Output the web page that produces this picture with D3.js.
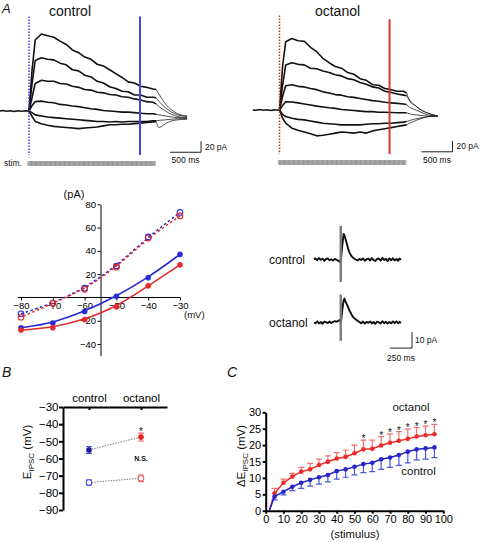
<!DOCTYPE html>
<html><head><meta charset="utf-8">
<script src="https://cdn.jsdelivr.net/npm/d3@7"></script>
<style>
body{margin:0;background:#fff;}
svg{display:block;font-family:"Liberation Sans",Arial,Helvetica,sans-serif;}
</style></head><body>
<svg id="fig" width="480" height="542"></svg>
<script>
// ================= DATA =================
// Panel A : whole-cell currents during 100 stimuli (pA vs ms)
const traceTimes = [0,50,100,200,300,400,500,600,700,800,900,1000,1100,1200,1300,1400,1500,1600,1700,1800,1900,2000,2050];
const decayTimes = [2050,2100,2200,2300,2400,2550];
const controlTraces = [
  [0,75,129,140,137,134,127,121,111,106,98,94,85,82,75,68,61,53,51,45,43,40,39],
  [0,50,92,97,94,93,87,84,75,73,65,62,54,51,44,41,36,35,29,29,25,25,24],
  [0,25,50,56,54,54,50,49,45,43,39,38,34,33,30,29,26,25,22,20,17,16,13],
  [0,10,17,18,16,15,12,11,9,8,6,4,3,1,0,-1,-2,-2,-3,-4,-5,-5,-6],
  [0,-3,-7,-9,-11,-12,-13,-14,-15,-16,-17,-18,-19,-19,-20,-19,-20,-19,-19,-19,-19,-18,-18],
  [0,-10,-19,-23,-26,-28,-29,-30,-31,-32,-31,-30,-29,-27,-25,-25,-24,-24,-23,-22,-21,-20,-19]
];
const controlDecay = [
  [39,30,13,2,-5,-9],
  [24,17,6,-2,-7,-10],
  [13,8,0,-6,-10,-12],
  [-6,-7,-9,-11,-12,-13],
  [-18,-17,-16,-15,-14,-14],
  [-19,-30,-23,-18,-16,-15]
];
const octanolTraces = [
  [0,80,124,130,126,125,114,106,94,86,79,76,68,65,57,54,46,45,39,37,34,34,31],
  [0,45,82,86,83,82,76,75,71,68,64,62,57,55,50,47,42,40,34,32,29,27,26],
  [0,25,44,46,43,42,39,37,33,31,28,27,24,23,21,19,17,16,14,13,12,11,10],
  [0,8,15,14.5,13,11,9,7,5.5,4,3,1,0,-1,-2,-3,-3,-4,-4,-4.5,-5,-5,-5],
  [0,-8,-12,-15,-17,-18,-20,-22,-24,-25,-26,-27,-27,-27,-27,-26,-25,-25,-24,-24,-23,-22,-21],
  [0,-15,-24,-33,-37,-40,-43,-47,-46,-44,-42,-40,-41,-42,-40,-42,-38,-36,-34,-32,-30,-28,-27]
];
const octanolDecay = [
  [31,16,7,-1,-6,-11],
  [26,18,7,-1,-6,-11],
  [10,5,0,-5,-9,-11],
  [-5,-7,-9,-10,-11,-11],
  [-21,-19,-16,-14,-12,-11],
  [-27,-24,-19,-15,-12,-11]
];
const controlBaseT = [-470,-420,-360,-300,-240,-180,-120,-60,0];
const controlBaseV = [0,0.8,-0.5,0.6,-0.8,0.4,-0.6,0.5,0];
const octanolBaseT = [-430,-380,-320,-260,-200,-140,-80,-30,0];
const octanolBaseV = [0,-0.6,0.7,-0.4,0.6,-0.7,0.5,-0.3,0];
const controlCursorTimes = [0,1790];   // dotted (start), solid (end)
const octanolCursorTimes = [0,1775];
const stimCount = 100, stimInterval = 20.4;   // ms
const scaleBarA = {ms:500, pA:20};

// IV relationship (pA vs mV)
const ivVoltage = [-80,-70,-60,-50,-40,-30];
const ivControlStart = [-14,-5,8,27,52,73];
const ivOctanolStart = [-17,-5,7,26,51,70];
const ivControlEnd = [-26,-22,-12,1,17,37];
const ivOctanolEnd = [-28,-26,-19,-8,10,28];
const ivYTicks = [-40,-20,20,40,60,80];
const ivXTicks = [-80,-70,-60,-50,-40,-30];

// single IPSC examples
const smallTimes = [-307,-290,-270,-250,-230,-210,-190,-170,-150,-130,-110,-90,-70,-50,-30,-15,
  0,15,30,40,55,70,85,100,120,140,165,
  190,210,230,250,270,290,310,330,350,370,390,410,430,450,470,490,510,530,550,570,590,610,630,650,665,682];
const smallControl = [0,0.7,-0.4,0.9,-0.2,0.5,-0.8,0.3,0.6,-0.5,0.2,-0.7,0.4,-0.3,-0.8,-1.5,
  0,9,16,15,12,9,6,4,2,1,0,
  -0.6,0.4,-0.3,0.7,-0.8,0.2,0.5,-0.6,0.9,-0.4,-0.9,0.3,0.6,-0.7,1.0,-0.3,0.4,-1.0,0.7,-0.5,0.8,-0.6,0.3,-0.8,0.6,-0.2];
const smallOctanol = [0,-0.5,0.7,-0.6,0.3,-0.8,0.5,0.2,-0.4,0.6,-0.3,0.4,0.8,0.5,1.0,1.5,
  0,8,14,15,12.5,11,9,7,5,3.2,2,
  1,0.3,-0.5,0.6,-0.7,0.4,-0.2,0.7,-0.6,0.3,-0.8,0.5,0.2,-0.6,0.8,-0.4,0.5,-0.7,0.3,-0.5,0.6,-0.3,0.7,-0.6,0.4,-0.3];
const artifactControl = [21,-14];
const artifactOctanol = [17.5,-11.5];
const scaleBarS = {ms:250, pA:10};

// Panel B : E_IPSC
const bGroups = ["control","octanol"];
const bStimMean = [-55,-47.5];
const bStimSem = [2,2.3];
const bRestMean = [-74,-71.5];
const bRestSem = [1.5,2];
const bYTicks = [-90,-80,-70,-60,-50,-40,-30];

// Panel C : delta E_IPSC vs stimulus number
const cStimulus = [2,5,10,15,20,25,30,35,40,45,50,55,60,65,70,75,80,85,90,95];
const cOctMean = [0,5.3,8.5,10.4,11.9,12.6,13.9,14.9,15.9,16.4,17.5,18.7,18.9,19.9,20.7,21.3,21.9,22.6,23.0,23.3];
const cOctSem  = [0,1.5,1.1,1.0,1.3,1.8,1.8,1.8,1.8,2.1,2.5,2.8,2.6,2.7,2.7,2.8,3.0,2.7,2.8,3.0];
const cCtlMean = [0,4.3,5.8,7.3,8.5,9.4,10.2,10.9,12.1,12.6,13.4,14.2,14.6,15.7,16.2,17.0,18.0,18.7,19.0,19.3];
const cCtlSem  = [0,1.0,1.0,1.2,1.7,1.9,2.1,2.1,2.5,2.4,2.5,2.6,2.7,3.1,3.0,3.2,3.4,3.2,3.3,3.1];
const cSignificant = [55,65,70,75,80,85,90,95];
const cXTicks = [0,10,20,30,40,50,60,70,80,90,100];
const cYTicks = [0,5,10,15,20,25,30];

// ================= DRAW =================
const BLUE = "#2a2ad6", RED = "#e42a2a";
const fig = d3.select("#fig");
fig.append("rect").attr("width",480).attr("height",542).attr("fill","#fff");

function label(g, x, y, txt, size, opts={}) {
  return g.append("text").attr("x",x).attr("y",y).text(txt)
    .attr("font-size",size).attr("fill","#111")
    .attr("text-anchor",opts.anchor||"start")
    .attr("font-style",opts.italic?"italic":"normal")
    .attr("font-weight",opts.bold?"bold":"normal");
}

// ---- Panel A traces ----
const xA = d3.scaleLinear().domain([0,2000]).range([0,124]);
const yA = d3.scaleLinear().domain([0,20]).range([0,-11]);
const stimTimes = d3.range(stimCount).map(i => i*stimInterval);

function tracePanel(o) {
  const g = fig.append("g").attr("transform",`translate(${o.x0},${o.y0})`);
  g.append("rect").attr("x",xA(-30)).attr("width",xA(stimTimes[stimCount-1]+30)-xA(-30))
    .attr("y",yA(-91)).attr("height",yA(-100)-yA(-91)).attr("fill","#c4c4c4");
  g.selectAll("line.stim").data(stimTimes).join("line").attr("class","stim")
    .attr("x1",d=>xA(d)).attr("x2",d=>xA(d)).attr("y1",yA(-91)).attr("y2",yA(-100))
    .attr("stroke","#808080").attr("stroke-width",0.7);
  g.append("path").attr("d",d3.line().x((d,i)=>xA(o.baseT[i])).y(d=>yA(d))(o.baseV))
    .attr("fill","none").attr("stroke","#111").attr("stroke-width",1.5);
  o.decays.forEach(tr=>{
    g.append("path").attr("d",d3.line().x((d,i)=>xA(decayTimes[i])).y(d=>yA(d)).curve(d3.curveMonotoneX)(tr))
      .attr("fill","none").attr("stroke","#222").attr("stroke-width",0.8);
  });
  o.traces.forEach(tr=>{
    g.append("path").attr("d",d3.line().x((d,i)=>xA(traceTimes[i])).y(d=>yA(d))(tr))
      .attr("fill","none").attr("stroke","#111").attr("stroke-width",1.6).attr("stroke-linejoin","round");
  });
  g.append("line").attr("x1",xA(o.cursors[0])).attr("x2",xA(o.cursors[0]))
    .attr("y1",yA(172)).attr("y2",yA(-80)).attr("stroke",o.color).attr("stroke-width",1.6)
    .attr("stroke-dasharray","1.5,1.5");
  g.append("line").attr("x1",xA(o.cursors[1])).attr("x2",xA(o.cursors[1]))
    .attr("y1",yA(o.solidTop)).attr("y2",yA(-80)).attr("stroke",o.color).attr("stroke-width",2);
  const sx = xA(o.sbT), sy = yA(o.sbP);
  g.append("path").attr("d",`M${xA(o.sbT-scaleBarA.ms)},${sy}H${sx}V${yA(o.sbP+scaleBarA.pA)}`)
    .attr("fill","none").attr("stroke","#222").attr("stroke-width",1);
  label(g, sx+4, yA(o.sbP+scaleBarA.pA/2)+3, scaleBarA.pA+" pA", 8.5);
  label(g, xA(o.sbT-scaleBarA.ms/2), sy+11, scaleBarA.ms+" ms", 8.5, {anchor:"middle"});
  return g;
}
tracePanel({x0:29,y0:111,traces:controlTraces,decays:controlDecay,baseT:controlBaseT,baseV:controlBaseV,
  cursors:controlCursorTimes,color:"#4545e0",solidTop:172,sbT:2775,sbP:-75});
tracePanel({x0:279.5,y0:110,traces:octanolTraces,decays:octanolDecay,baseT:octanolBaseT,baseV:octanolBaseV,
  cursors:octanolCursorTimes,color:"#e03434",solidTop:165,sbT:2790,sbP:-76});

label(fig, 2, 12.5, "A", 13, {italic:true});
label(fig, 70, 16, "control", 14, {anchor:"middle"});
label(fig, 337.5, 16, "octanol", 14, {anchor:"middle"});
label(fig, 4, 166, "stim.", 8.5);

// ---- IV plot ----
const xIV = d3.scaleLinear().domain([-80,-30]).range([21,180]);
const yIV = d3.scaleLinear().domain([-50,80]).range([355.7,204.3]);
const ivG = fig.append("g");
ivG.append("g").attr("transform",`translate(0,${yIV(0)})`)
  .call(d3.axisBottom(xIV).tickValues(ivXTicks).tickSize(3).tickSizeOuter(0).tickPadding(1.5))
  .call(a=>{a.select(".domain").remove(); a.selectAll("text").attr("font-size",9.5).attr("font-family",null);});
ivG.append("line").attr("x1",xIV(-81)).attr("x2",xIV(-30)).attr("y1",yIV(0)).attr("y2",yIV(0)).attr("stroke","#000");
ivG.append("g").attr("transform",`translate(${xIV(-55)},0)`)
  .call(d3.axisLeft(yIV).tickValues(ivYTicks).tickSize(3).tickSizeOuter(0).tickPadding(1.5))
  .call(a=>{a.selectAll("text").attr("font-size",9.5).attr("font-family",null);});
label(ivG, 74, 198, "(pA)", 11, {anchor:"middle"});
label(ivG, 184, 318, "(mV)", 9.5);

const ivLine = d3.line().x((d,i)=>xIV(ivVoltage[i])).y(d=>yIV(d)).curve(d3.curveBasis);
ivG.append("path").attr("d",ivLine(ivControlStart)).attr("fill","none").attr("stroke",BLUE).attr("stroke-width",1.5)
  .attr("stroke-dasharray","2.5,2.5");
ivG.append("path").attr("d",ivLine(ivOctanolStart)).attr("fill","none").attr("stroke",RED).attr("stroke-width",1.5)
  .attr("stroke-dasharray","2.5,2.5").attr("stroke-dashoffset",2.5);
ivG.append("path").attr("d",ivLine(ivControlEnd)).attr("fill","none").attr("stroke",BLUE).attr("stroke-width",1.6);
ivG.append("path").attr("d",ivLine(ivOctanolEnd)).attr("fill","none").attr("stroke",RED).attr("stroke-width",1.6);
function ivMarks(vals, color, open) {
  ivG.append("g").selectAll("circle").data(vals).join("circle")
    .attr("cx",(d,i)=>xIV(ivVoltage[i])).attr("cy",d=>yIV(d))
    .attr("r",open?2.8:2.6).attr("fill",open?"none":color).attr("stroke",color).attr("stroke-width",open?1.1:0.5);
}
ivMarks(ivControlStart, BLUE, true);
ivMarks(ivOctanolStart, RED, true);
ivMarks(ivControlEnd, BLUE, false);
ivMarks(ivOctanolEnd, RED, false);

// ---- single IPSC examples ----
const xS = d3.scaleLinear().domain([0,250]).range([0,22]);
const yS = d3.scaleLinear().domain([0,10]).range([0,-16]);
function smallTrace(x0,y0,vals,art,name) {
  const g = fig.append("g").attr("transform",`translate(${x0},${y0})`);
  g.append("path").attr("d",d3.line().x((d,i)=>xS(smallTimes[i])).y(d=>yS(d))(vals))
    .attr("fill","none").attr("stroke","#111").attr("stroke-width",1.9).attr("stroke-linejoin","round");
  g.append("line").attr("x1",xS(-3)).attr("x2",xS(-3)).attr("y1",yS(art[0])).attr("y2",yS(art[1]))
    .attr("stroke","#7a7a7a").attr("stroke-width",2.4);
  label(fig, 269, y0+4, name, 12);
  return g;
}
smallTrace(341,259.5,smallControl,artifactControl,"control");
const sOct = smallTrace(341,322.5,smallOctanol,artifactOctanol,"octanol");
{
  const sx = xS(807), sy = yS(-16);
  sOct.append("path").attr("d",`M${xS(807-scaleBarS.ms)},${sy}H${sx}V${yS(-16+scaleBarS.pA)}`)
    .attr("fill","none").attr("stroke","#222").attr("stroke-width",1);
  label(sOct, sx+3, yS(-16+scaleBarS.pA/2)+3, scaleBarS.pA+" pA", 8.5);
  label(sOct, xS(807-scaleBarS.ms/2), sy+12.5, scaleBarS.ms+" ms", 8.5, {anchor:"middle"});
}

// ---- Panel B ----
const xB = d3.scalePoint().domain(bGroups).range([63,167]).padding(0.5);
const yB = d3.scaleLinear().domain([-90,-30]).range([510,407]);
const bG = fig.append("g");
bG.append("g").attr("transform",`translate(63,0)`)
  .call(d3.axisLeft(yB).tickValues(bYTicks).tickSize(4).tickSizeOuter(0).tickPadding(0.5))
  .call(a=>{a.selectAll("path,line").attr("stroke-width",2); a.selectAll("text").attr("font-size",11.5).attr("font-family",null);});
bG.append("g").attr("transform",`translate(0,${yB(-30)})`)
  .call(d3.axisTop(xB).tickSize(-3).tickSizeOuter(0).tickPadding(5.5))
  .call(a=>{a.selectAll("path,line").attr("stroke-width",2); a.selectAll("text").attr("font-size",11.5).attr("font-family",null);});
label(fig, 2, 377, "B", 14, {italic:true});
{
  const t = bG.append("text").attr("transform","translate(31,452) rotate(-90)").attr("text-anchor","middle")
    .attr("font-size",11.5).attr("fill","#111");
  t.append("tspan").text("E");
  t.append("tspan").text("IPSC").attr("font-size",8).attr("dy",3);
  t.append("tspan").text(" (mV)").attr("dy",-3);
}
function bSeries(means, sems, colorDark, colorLight, open) {
  bG.append("line").attr("x1",xB(bGroups[0])).attr("x2",xB(bGroups[1]))
    .attr("y1",yB(means[0])).attr("y2",yB(means[1]))
    .attr("stroke","#808080").attr("stroke-width",1).attr("stroke-dasharray","1.5,1.2");
  means.forEach((m,i)=>{
    const x = xB(bGroups[i]);
    const c = colorDark[i], cl = colorLight[i];
    bG.append("path").attr("d",`M${x-3},${yB(m+sems[i])}H${x+3}M${x},${yB(m+sems[i])}V${yB(m-sems[i])}M${x-3},${yB(m-sems[i])}H${x+3}`)
      .attr("stroke",cl).attr("stroke-width",1.2).attr("fill","none");
    bG.append("circle").attr("cx",x).attr("cy",yB(m)).attr("r",open?2.8:2.6)
      .attr("fill",open?"#fff":c).attr("stroke",c).attr("stroke-width",open?1.1:0.5);
  });
}
bSeries(bStimMean,bStimSem,["#1e1e9e","#e02020"],["#4a5ad8","#f06a6a"],false);
bSeries(bRestMean,bRestSem,["#3f4fd0","#ec5a5a"],["#6a78e0","#f08a8a"],true);
label(bG, xB("octanol"), yB(bStimMean[1]+bStimSem[1])+1.5, "*", 10, {anchor:"middle"});
label(bG, xB("octanol"), 461, "N.S.", 7, {anchor:"middle",bold:true});

// ---- Panel C ----
const xC = d3.scaleLinear().domain([0,100]).range([265.7,443.3]);
const yC = d3.scaleLinear().domain([0,30]).range([510.7,412.3]);
const cG = fig.append("g");
cG.append("g").attr("transform",`translate(0,${yC(0)})`)
  .call(d3.axisBottom(xC).tickValues(cXTicks).tickSize(3).tickSizeOuter(0).tickPadding(2))
  .call(a=>{a.selectAll("path,line").attr("stroke-width",2); a.selectAll("text").attr("font-size",11).attr("font-family",null);});
cG.append("g").attr("transform",`translate(${xC(0)},0)`)
  .call(d3.axisLeft(yC).tickValues(cYTicks).tickSize(3).tickSizeOuter(0).tickPadding(1.5))
  .call(a=>{a.selectAll("path,line").attr("stroke-width",2); a.selectAll("text").attr("font-size",11).attr("font-family",null);});
label(fig, 227, 377, "C", 14, {italic:true});
label(cG, 355, 537.5, "(stimulus)", 11.3, {anchor:"middle"});
{
  const t = cG.append("text").attr("transform","translate(245,456) rotate(-90)").attr("text-anchor","middle")
    .attr("font-size",11.5).attr("fill","#111");
  t.append("tspan").text("ΔE");
  t.append("tspan").text("IPSC").attr("font-size",8).attr("dy",3);
  t.append("tspan").text(" (mV)").attr("dy",-3);
}
function cSeries(means, sems, color, errColor, dir) {
  const g = cG.append("g");
  cStimulus.forEach((s,i)=>{
    if (sems[i] <= 0) return;
    const x = xC(s), y0 = yC(means[i]), y1 = yC(means[i] + dir*sems[i]);
    g.append("path").attr("d",`M${x},${y0}V${y1}M${x-3},${y1}H${x+3}`)
      .attr("stroke",errColor).attr("stroke-width",1.2).attr("fill","none");
  });
  g.append("path").attr("d",d3.line().x((d,i)=>xC(cStimulus[i])).y(d=>yC(d))(means))
    .attr("fill","none").attr("stroke",color).attr("stroke-width",1.5);
  g.selectAll("circle").data(means.slice(1)).join("circle")
    .attr("cx",(d,i)=>xC(cStimulus[i+1])).attr("cy",d=>yC(d)).attr("r",2.3).attr("fill",color);
}
cSeries(cOctMean,cOctSem,"#ef2a2a","#f47070",1);
cSeries(cCtlMean,cCtlSem,"#2424c8","#4a58dc",-1);
cSignificant.forEach(s=>{
  const i = cStimulus.indexOf(s);
  label(cG, xC(s), yC(cOctMean[i]+cOctSem[i])+2, "*", 10, {anchor:"middle"});
});
label(cG, 411, 411, "octanol", 11.5, {anchor:"middle"});
label(cG, 418.5, 475, "control", 11.5, {anchor:"middle"});
</script>
</body></html>
